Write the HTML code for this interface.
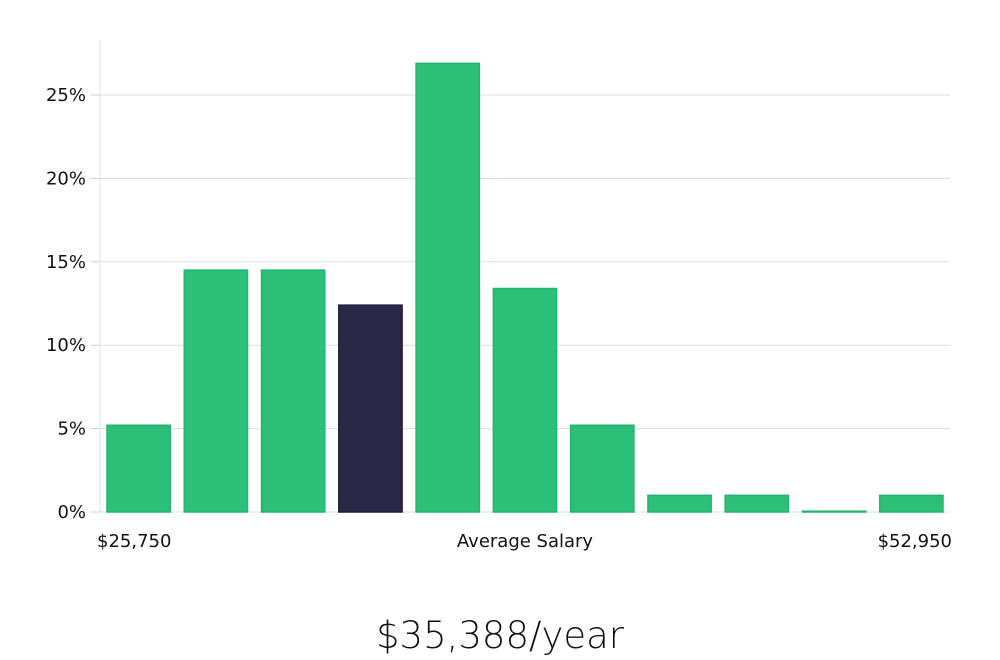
<!DOCTYPE html>
<html><head><meta charset="utf-8"><style>
body{margin:0;background:#fff;width:1000px;height:660px;overflow:hidden}
svg{display:block}
text{font-family:"DejaVu Sans","Liberation Sans",sans-serif;fill:#111}
</style></head><body>
<svg id="chart" width="1000" height="660" viewBox="0 0 1000 660"></svg>
<script>
const categories=["b1","b2","b3","b4","b5","b6","b7","b8","b9","b10","b11"];
const values=[5.2,14.5,14.5,12.4,26.9,13.4,5.2,1.0,1.0,0.05,1.0];
const highlightIndex=3;
const yTicks=[0,5,10,15,20,25];
const xLabels=["$25,750","Average Salary","$52,950"];
const title="$35,388/year";
const NS="http://www.w3.org/2000/svg";
const svg=document.getElementById('chart');
const L=100,R=950,T=40,B=512;
const y=v=>B-v*(B-95)/25;
const band=(R-L)/categories.length;
const x=i=>L+i*band;
function mk(t,a){const e=document.createElementNS(NS,t);for(const k in a)e.setAttribute(k,a[k]);svg.appendChild(e);return e;}
yTicks.forEach(t=>{
  const g=mk('line',{x1:L,x2:R,y1:y(t),y2:y(t),stroke:'#ddd','stroke-width':1});
  
  
  const tk=mk('line',{x1:L-9,x2:L,y1:y(t),y2:y(t),stroke:'#ccc','stroke-width':1});
  
  
  const lb=mk('text',{x:L-14,y:y(t)+6,'text-anchor':'end','font-size':18});
  lb.textContent=t+'%';
  
  
});
const ax=mk('line',{x1:L,x2:L,y1:T,y2:B,stroke:'#ddd','stroke-width':1});


values.forEach((v,i)=>{
  const hi=i===highlightIndex;
  const r=mk('rect',{x:x(i)+7,y:y(v),width:band-14,height:B-y(v),fill:hi?'#2a2747':'#2bbf78',stroke:hi?'#1e1b3f':'#25b56f','stroke-width':1.5});
  
  
});
const xs=[[97,'start'],[525,'middle'],[952,'end']];
xLabels.forEach((s,i)=>{
  const t=mk('text',{x:xs[i][0],y:547,'text-anchor':xs[i][1],'font-size':18});
  t.textContent=s;
  
  
});
const tt=mk('text',{x:500,y:648,'text-anchor':'middle','font-size':37,'font-weight':300});
tt.textContent=title;


</script>
</body></html>
